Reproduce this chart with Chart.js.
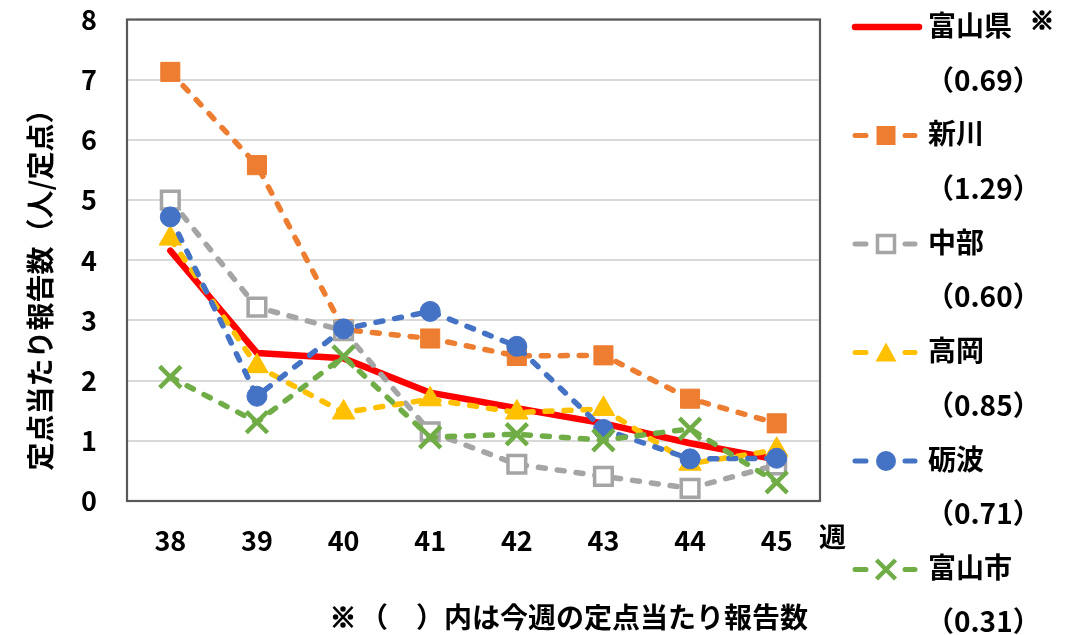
<!DOCTYPE html>
<html><head><meta charset="utf-8">
<script src="https://cdn.jsdelivr.net/npm/chart.js@4"></script>
<style>html,body{margin:0;padding:0;background:#fff}#wrap{width:1066px;height:635px;position:relative}</style>
</head><body><div id="wrap"><canvas id="c"></canvas></div>
<script>
const weeks = ['38','39','40','41','42','43','44','45'];
const yTicks = [0,1,2,3,4,5,6,7,8];
const toyamaKen = [4.16,2.46,2.37,1.80,1.54,1.29,0.96,0.69];
const niikawa   = [7.13,5.58,2.85,2.70,2.41,2.42,1.70,1.29];
const chubu     = [5.00,3.22,2.83,1.15,0.61,0.41,0.21,0.60];
const takaoka   = [4.36,2.24,1.47,1.69,1.47,1.53,0.62,0.85];
const tonami    = [4.72,1.74,2.86,3.15,2.57,1.19,0.70,0.71];
const toyamaShi = [2.06,1.31,2.40,1.06,1.11,1.01,1.20,0.31];
const seriesNames = ['富山県','新川','中部','高岡','砺波','富山市'];
const currentValues = ['0.69','1.29','0.60','0.85','0.71','0.31'];
const yTitle = '定点当たり報告数（人/定点）';
const xUnit = '週';
const noteMark = '※';
const footNote = '（　）内は今週の定点当たり報告数';

const FONT = '"Noto Sans CJK JP", "Noto Sans", sans-serif';
const COLORS = ['#FF0000','#ED7D31','#A5A5A5','#FFC000','#4472C4','#70AD47'];
const allData = [toyamaKen, niikawa, chubu, takaoka, tonami, toyamaShi];
const styles = [
  {pointStyle:false, r:0, bg:COLORS[0], bw:0, width:6.5, dash:[]},
  {pointStyle:'rect', r:13.5, bg:COLORS[1], bw:1, width:5.5, dash:[7,12]},
  {pointStyle:'rect', r:12.5, bg:'#FFFFFF', bw:3.5, width:5.5, dash:[7,12]},
  {pointStyle:'triangle', r:13, bg:COLORS[3], bw:1, width:5.5, dash:[7,12]},
  {pointStyle:'circle', r:10, bg:COLORS[4], bw:1, width:5.5, dash:[7,12]},
  {pointStyle:'crossRot', r:15, bg:COLORS[5], bw:4.5, width:5.5, dash:[7,12]}
];

const datasets = allData.map((d,i)=>({
  label: seriesNames[i],
  data: d,
  borderColor: COLORS[i],
  backgroundColor: styles[i].bg,
  borderWidth: styles[i].width,
  borderDash: styles[i].dash,
  borderCapStyle: 'round',
  borderJoinStyle: 'round',
  tension: 0,
  pointStyle: styles[i].pointStyle || 'circle',
  pointRadius: styles[i].r,
  pointHoverRadius: styles[i].r,
  pointBorderWidth: styles[i].bw,
  pointBorderColor: COLORS[i],
  pointBackgroundColor: styles[i].bg,
  order: 5 - i
}));

function drawMarker(ctx, type, x, y, color, bg) {
  ctx.save();
  ctx.setLineDash([]);
  ctx.fillStyle = bg; ctx.strokeStyle = color;
  if (type === 'rect') {
    const s = 9.5;
    ctx.fillStyle = color;
    ctx.fillRect(x-s, y-s, 2*s, 2*s);
  } else if (type === 'hrect') {
    const s = 8.5;
    ctx.fillStyle = '#fff'; ctx.lineWidth = 3.5;
    ctx.fillRect(x-s, y-s, 2*s, 2*s);
    ctx.strokeRect(x-s, y-s, 2*s, 2*s);
  } else if (type === 'triangle') {
    ctx.fillStyle = color;
    ctx.beginPath();
    ctx.moveTo(x, y-10); ctx.lineTo(x+10.5, y+9); ctx.lineTo(x-10.5, y+9); ctx.closePath();
    ctx.fill();
  } else if (type === 'circle') {
    ctx.fillStyle = color;
    ctx.beginPath(); ctx.arc(x, y, 10, 0, Math.PI*2); ctx.fill();
  } else if (type === 'cross') {
    ctx.lineWidth = 4.5; ctx.lineCap = 'butt';
    const o = 9.5;
    ctx.beginPath();
    ctx.moveTo(x-o, y-o); ctx.lineTo(x+o, y+o);
    ctx.moveTo(x+o, y-o); ctx.lineTo(x-o, y+o);
    ctx.stroke();
  }
  ctx.restore();
}

function boldMark(ctx, x, y, size) {
  ctx.save();
  ctx.font = 'bold ' + size + 'px ' + FONT;
  ctx.textAlign = 'left'; ctx.textBaseline = 'middle';
  ctx.fillStyle = '#000'; ctx.strokeStyle = '#000'; ctx.lineWidth = 1.6;
  ctx.fillText(noteMark, x, y);
  ctx.strokeText(noteMark, x, y);
  ctx.restore();
}

const decor = {
  id: 'decor',
  beforeDatasetsDraw(chart) {
    const {ctx, chartArea:a} = chart;
    ctx.save();
    ctx.strokeStyle = '#595959'; ctx.lineWidth = 2.2;
    ctx.strokeRect(a.left, a.top, a.right-a.left, a.bottom-a.top);
    ctx.restore();
  },
  afterDraw(chart) {
    const {ctx} = chart;
    ctx.save();
    ctx.fillStyle = '#000';
    // y axis title
    ctx.save();
    ctx.translate(40, 283);
    ctx.rotate(-Math.PI/2);
    ctx.font = 'bold 28px ' + FONT;
    ctx.textAlign = 'center'; ctx.textBaseline = 'middle';
    ctx.fillText(yTitle, 0, 0);
    ctx.restore();
    // x unit
    ctx.font = 'bold 27px ' + FONT;
    ctx.textAlign = 'left'; ctx.textBaseline = 'middle';
    ctx.fillText(xUnit, 819, 537);
    // footnote
    boldMark(ctx, 330, 617, 26);
    ctx.font = 'bold 28px ' + FONT;
    ctx.fillText(footNote, 360, 617);
    // legend
    const markers = [null,'rect','hrect','triangle','circle','cross'];
    for (let i = 0; i < seriesNames.length; i++) {
      const yn = 27 + i*108.5;
      const yv = 80 + i*108.3;
      ctx.save();
      ctx.strokeStyle = COLORS[i];
      ctx.lineCap = 'round';
      if (i === 0) {
        ctx.lineWidth = 6.5;
        ctx.beginPath(); ctx.moveTo(855, yn); ctx.lineTo(919, yn); ctx.stroke();
      } else {
        ctx.lineWidth = 5;
        ctx.beginPath();
        ctx.moveTo(855, yn); ctx.lineTo(866, yn);
        ctx.moveTo(905, yn); ctx.lineTo(915, yn);
        ctx.stroke();
        drawMarker(ctx, markers[i], 886, yn, COLORS[i], styles[i].bg);
      }
      ctx.restore();
      ctx.fillStyle = '#000';
      ctx.font = 'bold 28px ' + FONT;
      ctx.textAlign = 'left'; ctx.textBaseline = 'middle';
      ctx.fillText(seriesNames[i], 928, yn - 2);
      ctx.fillText('（' + currentValues[i] + '）', 926, yv);
      if (i === 0) boldMark(ctx, 1030, 20, 24);
    }
    ctx.restore();
  }
};

new Chart(document.getElementById('c'), {
  type: 'line',
  data: { labels: weeks, datasets },
  plugins: [decor],
  options: {
    responsive: true,
    maintainAspectRatio: false,
    animation: false,
    devicePixelRatio: 1,
    layout: { padding: { left: 0, top: 18, right: 246, bottom: 0 } },
    plugins: { legend: { display: false }, tooltip: { enabled: false } },
    scales: {
      x: {
        offset: true,
        grid: { display: false, drawTicks: false },
        border: { display: false },
        ticks: { color: '#000', font: { family: FONT, size: 27, weight: 'bold' }, padding: 24, maxRotation: 0, autoSkip: false },
        afterFit(s) { s.height = 134; s.paddingLeft = 0; s.paddingRight = 0; }
      },
      y: {
        min: yTicks[0], max: yTicks[yTicks.length-1],
        afterBuildTicks(s) { s.ticks = yTicks.map(v => ({value: v})); },
        grid: { color: '#D9D9D9', lineWidth: 2, drawTicks: false },
        border: { display: false },
        ticks: { color: '#000', font: { family: FONT, size: 27, weight: 'bold' }, padding: 30 },
        afterFit(s) { s.width = 127; s.paddingTop = 0; s.paddingBottom = 0; }
      }
    }
  }
});
</script>
</body></html>
